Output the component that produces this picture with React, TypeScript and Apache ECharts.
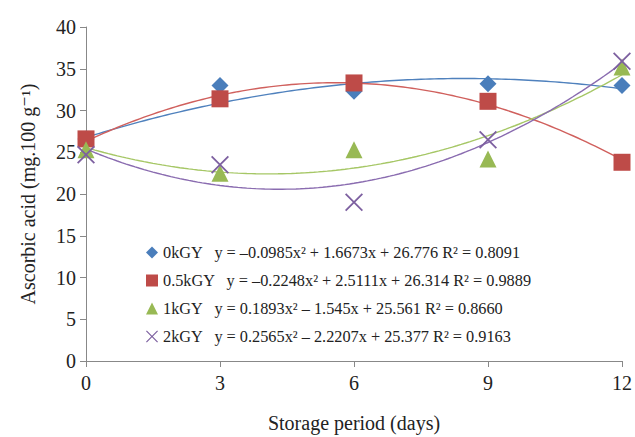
import React, { useEffect, useRef } from "react";
import * as echarts from "echarts";

const days = [0, 3, 6, 9, 12];
const seriesNames = ["0kGY", "0.5kGY", "1kGY", "2kGY"];
const v0 = [26.6, 33.0, 32.3, 33.2, 33.0];
const v05 = [26.6, 31.4, 33.3, 31.1, 23.8];
const v1 = [25.3, 22.5, 25.3, 24.2, 35.2];
const v2 = [24.7, 23.5, 19.0, 26.5, 35.9];
// trend-line coefficients shown in the chart: [a, b, c] for y = a x^2 + b x + c
const fit0 = [-0.0985, 1.6673, 26.776];
const fit05 = [-0.2248, 2.5111, 26.314];
const fit1 = [0.1893, -1.545, 25.561];
const fit2 = [0.2565, -2.2207, 25.377];
const equations = [
  "y = –0.0985x² + 1.6673x + 26.776 R² = 0.8091",
  "y = –0.2248x² + 2.5111x + 26.314 R² = 0.9889",
  "y = 0.1893x² – 1.545x + 25.561 R² = 0.8660",
  "y = 0.2565x² – 2.2207x + 25.377 R² = 0.9163",
];

const colors = ["#4a7ebb", "#be4b48", "#98b954", "#7d60a0"];
const lineColors = ["#4f81bd", "#d0605d", "#a6c766", "#8a6cb0"];
const symbols = [
  "diamond",
  "rect",
  "triangle",
  "path://M0,7 L7,0 L50,43 L93,0 L100,7 L57,50 L100,93 L93,100 L50,57 L7,100 L0,93 L43,50 Z",
];
const symbolSizes = [17, 17, 17, 18];

export default function App() {
  const ref = useRef<HTMLDivElement>(null);
  useEffect(() => {
    if (!ref.current) return;
    const chart = echarts.init(ref.current, null, { renderer: "svg" });
    const values = [v0, v05, v1, v2];
    const fits = [fit0, fit05, fit1, fit2];
    const font = "'Liberation Serif', 'DejaVu Serif', serif";
    const trend = fits.map((f, i) => {
      const pts: number[][] = [];
      for (let k = 0; k <= 120; k++) {
        const x = k / 10;
        pts.push([x, f[0] * x * x + f[1] * x + f[2]]);
      }
      return {
        type: "line",
        name: "trend" + i,
        data: pts,
        showSymbol: false,
        symbol: "none",
        lineStyle: { color: lineColors[i], width: 1.4 },
        z: 1,
        silent: true,
      };
    });
    const scatters = values.map((vals, i) => ({
      type: "scatter",
      name: seriesNames[i],
      data: days.map((d, j) => [d, vals[j]]),
      symbol: symbols[i],
      symbolSize: symbolSizes[i],
      itemStyle: { color: colors[i], opacity: 1 },
      z: 3,
    }));
    chart.setOption({
      animation: false,
      grid: { left: 86, right: 13, top: 27, bottom: 76, outerBoundsMode: "none", containLabel: false },
      legend: {
        data: seriesNames.map((n, i) => ({ name: n, icon: symbols[i] })),
        orient: "vertical",
        left: 141,
        top: 239,
        itemWidth: 12,
        itemHeight: 12,
        itemGap: 11,
        formatter: (name: string) => {
          const i = seriesNames.indexOf(name);
          return name + "   " + equations[i];
        },
        textStyle: { fontFamily: font, fontSize: 16.3, lineHeight: 17, color: "#222" },
      },
      xAxis: {
        type: "value",
        min: 0,
        max: 12,
        interval: 3,
        name: "Storage period (days)",
        nameLocation: "middle",
        nameGap: 52,
        nameTextStyle: { fontFamily: font, fontSize: 20, color: "#222" },
        axisLine: { lineStyle: { color: "#888", width: 1 } },
        axisTick: { show: true, length: 6, lineStyle: { color: "#888" } },
        axisLabel: { fontFamily: font, fontSize: 20, color: "#222", margin: 12 },
        splitLine: { show: false },
      },
      yAxis: {
        type: "value",
        min: 0,
        max: 40,
        interval: 5,
        name: "Ascorbic acid (mg.100 g⁻¹)",
        nameLocation: "middle",
        nameGap: 48,
        nameTextStyle: { fontFamily: font, fontSize: 20, color: "#222" },
        axisLine: { show: true, lineStyle: { color: "#888", width: 1 } },
        axisTick: { show: true, length: 6, lineStyle: { color: "#888" } },
        axisLabel: { fontFamily: font, fontSize: 20, color: "#222", margin: 10 },
        splitLine: { show: false },
      },
      series: [...trend, ...scatters],
    });
    return () => chart.dispose();
  }, []);
  return <div ref={ref} style={{ width: 635, height: 437, position: "absolute", left: 0, top: 0 }} />;
}
